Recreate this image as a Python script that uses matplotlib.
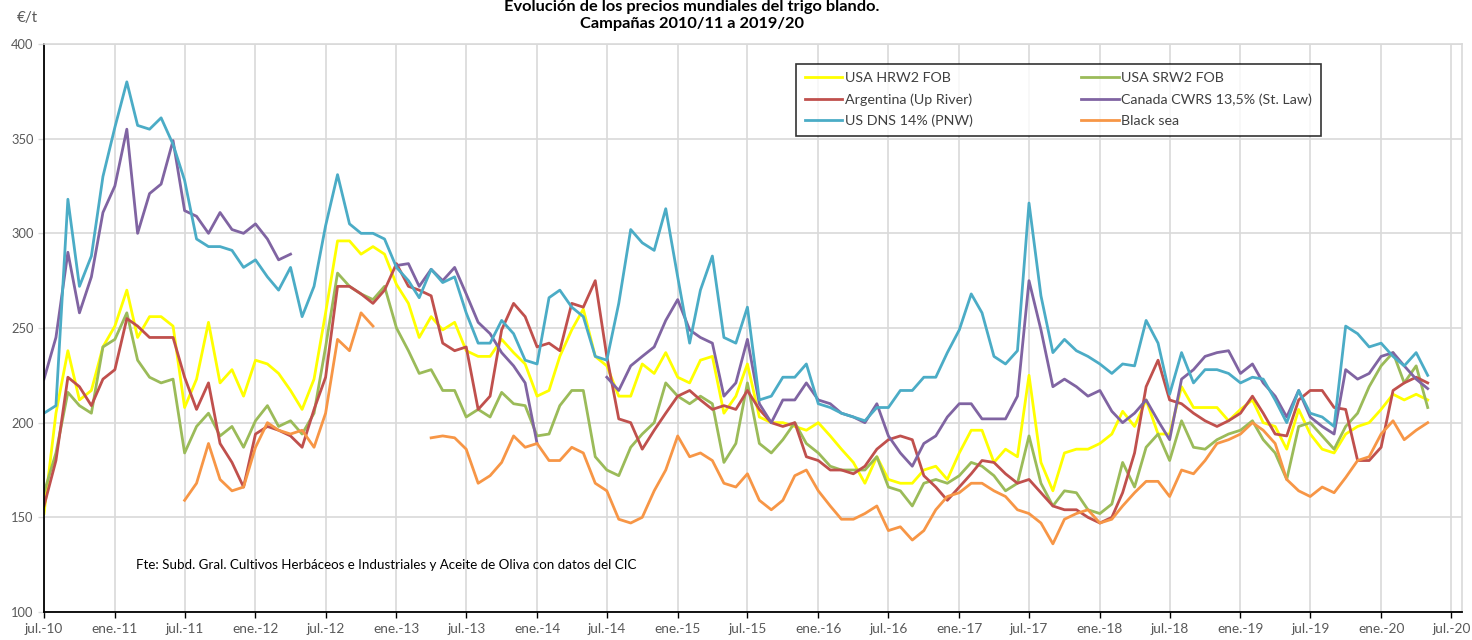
import numpy as np
import pandas as pd
import matplotlib
matplotlib.use("Agg")
import matplotlib.pyplot as plt

nan = np.nan

# Monthly dates (first of month), Jul 2010 .. May 2020
dates = pd.date_range("2010-07-01", periods=119, freq="MS")

usa_hrw2 = [152, 205, 238, 212, 217, 240, 251, 270, 245, 256,
            256, 251, 208, 223, 253, 221, 228, 214, 233, 231,
            226, 217, 207, 223, 258, 296, 296, 289, 293, 289,
            273, 263, 245, 256, 249, 253, 238, 235, 235, 244,
            237, 231, 214, 217, 235, 249, 260, 235, 230, 214,
            214, 231, 226, 237, 224, 221, 233, 235, 205, 214,
            231, 203, 200, 200, 198, 196, 200, 193, 186, 179,
            168, 182, 170, 168, 168, 175, 177, 170, 184, 196,
            196, 179, 186, 182, 225, 179, 164, 184, 186, 186,
            189, 194, 206, 198, 212, 194, 194, 219, 208, 208,
            208, 201, 207, 212, 200, 198, 186, 207, 194, 186,
            184, 194, 198, 200, 207, 215, 212, 215, 212]

usa_srw2 = [163, 184, 216, 209, 205, 240, 244, 258, 233, 224,
            221, 223, 184, 198, 205, 193, 198, 187, 201, 209,
            198, 201, 194, 205, 240, 279, 272, 268, 265, 272,
            250, 238, 226, 228, 217, 217, 203, 207, 203, 216,
            210, 209, 193, 194, 209, 217, 217, 182, 175, 172,
            187, 194, 200, 221, 214, 210, 214, 210, 179, 189,
            221, 189, 184, 191, 200, 189, 184, 177, 175, 175,
            175, 182, 166, 164, 156, 168, 170, 168, 172, 179,
            177, 172, 164, 168, 193, 168, 156, 164, 163, 154,
            152, 157, 179, 166, 187, 194, 180, 201, 187, 186,
            191, 194, 196, 201, 191, 184, 170, 198, 200, 193,
            186, 198, 205, 219, 230, 237, 221, 230, 208]

argentina = [156, 180, 224, 219, 209, 223, 228, 255, 251, 245,
             245, 245, 224, 207, 221, 189, 179, 166, 194, 198,
             196, 193, 187, 207, 224, 272, 272, 268, 263, 270,
             284, 272, 270, 267, 242, 238, 240, 207, 214, 249,
             263, 256, 240, 242, 238, 263, 261, 275, 235, 202,
             200, 186, 196, 205, 214, 217, 212, 207, 209, 207,
             217, 207, 200, 198, 200, 182, 180, 175, 175, 173,
             177, 186, 191, 193, 191, 172, 166, 159, 166, 173,
             180, 179, 173, 168, 170, 163, 156, 154, 154, 150,
             147, 150, 163, 184, 219, 233, 212, 210, 205, 201,
             198, 201, 205, 214, 205, 194, 193, 212, 217, 217,
             208, 207, 180, 180, 187, 217, 221, 224, 221]

canada = [223, 245, 290, 258, 277, 311, 325, 355, 300, 321,
          326, 349, 312, 309, 300, 311, 302, 300, 305, 297,
          286, 289, nan, nan, nan, nan, nan, nan, nan, nan,
          283, 284, 272, 281, 275, 282, 268, 253, 247, 237,
          230, 221, 189, nan, nan, nan, nan, nan, 224, 217,
          230, 235, 240, 254, 265, 249, 245, 242, 214, 221,
          244, 210, 200, 212, 212, 221, 212, 210, 205, 203,
          200, 210, 193, 184, 177, 189, 193, 203, 210, 210,
          202, 202, 202, 214, 275, 249, 219, 223, 219, 214,
          217, 206, 200, 205, 212, 201, 191, 223, 228, 235,
          237, 238, 226, 231, 221, 214, 203, 217, 203, 198,
          194, 228, 223, 226, 235, 237, 230, 223, 218]

us_dns = [205, 209, 318, 272, 288, 330, 356, 380, 357, 355,
          361, 347, 328, 297, 293, 293, 291, 282, 286, 277,
          270, 282, 256, 272, 304, 331, 305, 300, 300, 297,
          282, 275, 266, 281, 274, 277, 258, 242, 242, 254,
          247, 233, 231, 266, 270, 261, 256, 235, 233, 263,
          302, 295, 291, 313, 277, 242, 270, 288, 245, 242,
          261, 212, 214, 224, 224, 231, 210, 208, 205, 203,
          201, 208, 208, 217, 217, 224, 224, 237, 249, 268,
          258, 235, 231, 238, 316, 267, 237, 244, 238, 235,
          231, 226, 231, 230, 254, 242, 215, 237, 221, 228,
          228, 226, 221, 224, 223, 212, 200, 217, 205, 203,
          198, 251, 247, 240, 242, 235, 230, 237, 225]

black_sea = [nan, nan, nan, nan, nan, nan, nan, nan, nan, nan,
             nan, nan, 159, 168, 189, 170, 164, 166, 187, 200,
             196, 194, 196, 187, 205, 244, 238, 258, 251, nan,
             nan, nan, nan, 192, 193, 192, 186, 168, 172, 179,
             193, 187, 189, 180, 180, 187, 184, 168, 164, 149,
             147, 150, 164, 175, 193, 182, 184, 180, 168, 166,
             173, 159, 154, 159, 172, 175, 164, 156, 149, 149,
             152, 156, 143, 145, 138, 143, 154, 161, 163, 168,
             168, 164, 161, 154, 152, 147, 136, 149, 152, 154,
             147, 149, 156, 163, 169, 169, 161, 175, 173, 180,
             189, 191, 194, 200, 196, 189, 170, 164, 161, 166,
             163, 171, 180, 182, 194, 201, 191, 196, 200]

series_names = ["USA HRW2 FOB", "USA SRW2 FOB", "Argentina (Up River)",
                "Canada CWRS 13,5% (St. Law)", "US DNS 14% (PNW)", "Black sea"]
series_colors = ["#FFFF00", "#9BBB59", "#C0504D", "#8064A2", "#4BACC6", "#F79646"]
series_values = [usa_hrw2, usa_srw2, argentina, canada, us_dns, black_sea]

tick_dates = pd.date_range("2010-07-01", "2020-07-01", freq="6MS")
tick_labels = ["jul.-10", "ene.-11", "jul.-11", "ene.-12", "jul.-12", "ene.-13",
               "jul.-13", "ene.-14", "jul.-14", "ene.-15", "jul.-15", "ene.-16",
               "jul.-16", "ene.-17", "jul.-17", "ene.-18", "jul.-18", "ene.-19",
               "jul.-19", "ene.-20", "jul.-20"]

plt.rcParams['font.family'] = ['Lato', 'DejaVu Sans']

fig = plt.figure(figsize=(14.72, 6.4), dpi=100)
ax = fig.add_axes([44/1472, 28/640, 1418/1472, 568/640])

handles = []
for name, col, vals in zip(series_names, series_colors, series_values):
    h, = ax.plot(dates, vals, color=col, lw=2.0, label=name, solid_joinstyle='round')
    handles.append(h)

ax.set_ylim(100, 400)
ax.set_yticks([100, 150, 200, 250, 300, 350, 400])
ax.set_xlim(pd.Timestamp("2010-07-01"), pd.Timestamp("2020-07-29"))
ax.set_xticks(tick_dates)
ax.set_xticklabels(tick_labels)

ax.grid(True, color="#D9D9D9", lw=1.2)
ax.set_axisbelow(True)
for s in ["top", "right"]:
    ax.spines[s].set_color("#D9D9D9")
    ax.spines[s].set_linewidth(1.2)
for s in ["left", "bottom"]:
    ax.spines[s].set_color("black")
    ax.spines[s].set_linewidth(1.3)
ax.tick_params(axis='both', labelsize=9.8, colors="#595959", length=4, width=1)
ax.tick_params(axis='x', pad=4, color='black')
ax.tick_params(axis='y', color='#D9D9D9', labelsize=9.3)

order = [0, 2, 4, 1, 3, 5]
leg = ax.legend([handles[i] for i in order], [series_names[i] for i in order],
                ncol=2, loc='upper left',
                bbox_to_anchor=(0.5303, 0.831, 0.3702, 0.134), mode='expand',
                fontsize=10.3, frameon=True, fancybox=False,
                handlelength=2.6, handletextpad=0.2, borderaxespad=0.0,
                labelspacing=0.62, borderpad=0.6, columnspacing=3.6)
leg.get_frame().set_edgecolor("black")
leg.get_frame().set_linewidth(1.2)
for t in leg.get_texts():
    t.set_color("#404040")

ax.text(0.065, 0.083, "Fte: Subd. Gral. Cultivos Herbáceos e Industriales y Aceite de Oliva con datos del CIC",
        transform=ax.transAxes, fontsize=9.6, color="black", va='center', ha='left')

fig.text(692/1472, 1.0, "Evolución de los precios mundiales del trigo blando.",
         ha='center', va='top', fontsize=11.8, fontweight='bold')
fig.text(692/1472, 1 - 24/640, "Campañas 2010/11 a 2019/20",
         ha='center', va='center', fontsize=11.8, fontweight='bold')
fig.text(27/1472, 1 - 18/640, "€/t", ha='center', va='center', fontsize=11, color="#595959")

fig.savefig("out.png", dpi=100)
